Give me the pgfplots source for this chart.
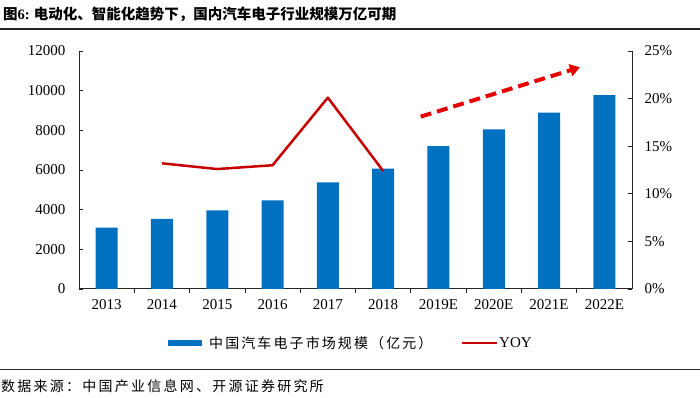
\documentclass[border=0pt]{standalone}
\usepackage{pgfplots}
\pgfplotsset{compat=1.18}
\usetikzlibrary{arrows.meta}
\usepackage{fontspec}
\setmainfont{Liberation Serif}
\newfontfamily\cjk{Noto Sans CJK SC}
\newfontfamily\cjksp[LetterSpace=16]{Noto Sans CJK SC}
\newfontfamily\cjkls[LetterSpace=15]{Noto Sans CJK SC}
\definecolor{barblue}{HTML}{0070C0}
\definecolor{yoyred}{HTML}{C80000}
\definecolor{arrred}{HTML}{E60000}
\begin{document}
\begin{tikzpicture}
\useasboundingbox (0,0) rectangle (700pt,398pt);
\begin{axis}[
  at={(79pt,109pt)}, anchor=south west,
  scale only axis, width=553pt, height=238pt,
  xmin=-0.5, xmax=9.5, ymin=0, ymax=12000,
  axis y line*=left, axis x line*=bottom,
  axis line style={line width=1pt, black!85},
  xtick={0,...,9},
  xticklabels={2013,2014,2015,2016,2017,2018,2019E,2020E,2021E,2022E},
  major x tick style={draw=none},
  minor xtick={0.5,1.5,...,8.5},
  ytick={0,2000,...,12000},
  scaled y ticks=false,
  tick align=inside, major tick length=4pt, minor tick length=4pt,
  tick style={line width=0.8pt, black!85},
  ticklabel style={font=\fontsize{15}{18}\selectfont},
  yticklabel style={xshift=-10pt},
  xticklabel style={yshift=-3pt},
  /pgf/number format/assume math mode=true,
  /pgf/number format/1000 sep={},
  ybar, bar width=22pt,
]
\addplot[fill=barblue, draw=none] coordinates {
 (0,3100) (1,3530) (2,3970) (3,4470) (4,5380) (5,6070) (6,7200) (7,8050) (8,8890) (9,9770)};
\draw[arrred, line width=4pt, dash pattern=on 11pt off 6pt, -{Triangle[length=10pt,width=12pt]}]
  (axis cs:5.68,8690) -- (axis cs:8.56,11180);
\end{axis}
\begin{axis}[
  at={(79pt,109pt)}, anchor=south west,
  scale only axis, width=553pt, height=238pt,
  xmin=-0.5, xmax=9.5, ymin=0, ymax=25,
  axis y line*=right, axis x line=none,
  axis line style={line width=1pt, black!85},
  ytick={0,5,...,25},
  yticklabel={\pgfmathprintnumber{\tick}\%},
  tick align=inside, major tick length=4pt,
  tick style={line width=0.8pt, black!85},
  ticklabel style={font=\fontsize{15}{18}\selectfont},
  yticklabel style={xshift=9pt},
  /pgf/number format/assume math mode=true,
]
\addplot[line width=2.5pt, yoyred, line join=round, mark=none] coordinates {
 (1,13.2) (2,12.6) (3,13.0) (4,20.1) (5,12.4)};
\end{axis}
% title and rules
\node[anchor=west, inner sep=0pt] at (3pt,384pt)
  {\fontsize{14.5}{17}\selectfont{\cjk\bfseries 图}\textbf{6:}\hspace{4pt}{\cjk\bfseries 电动化、智能化趋势下，国内汽车电子行业规模万亿可期}};
\draw[line width=1.3pt, black!85] (0,369pt) -- (700pt,369pt);
\draw[line width=1pt, black!85] (0,28pt) -- (700pt,28pt);
\node[anchor=west, inner sep=0pt] at (1pt,12pt)
  {\fontsize{14}{16}\selectfont\cjksp 数据来源：中国产业信息网、开源证券研究所};
% legend
\fill[barblue] (168pt,52pt) rectangle (202pt,58pt);
\node[anchor=west, inner sep=0pt] at (209pt,55pt)
  {\fontsize{14}{16}\selectfont\cjkls 中国汽车电子市场规模（亿元）};
\draw[yoyred, line width=2.5pt] (462pt,55pt) -- (497pt,55pt);
\node[anchor=west, inner sep=0pt] at (499pt,55pt) {\fontsize{15}{18}\selectfont YOY};
\end{tikzpicture}
\end{document}
